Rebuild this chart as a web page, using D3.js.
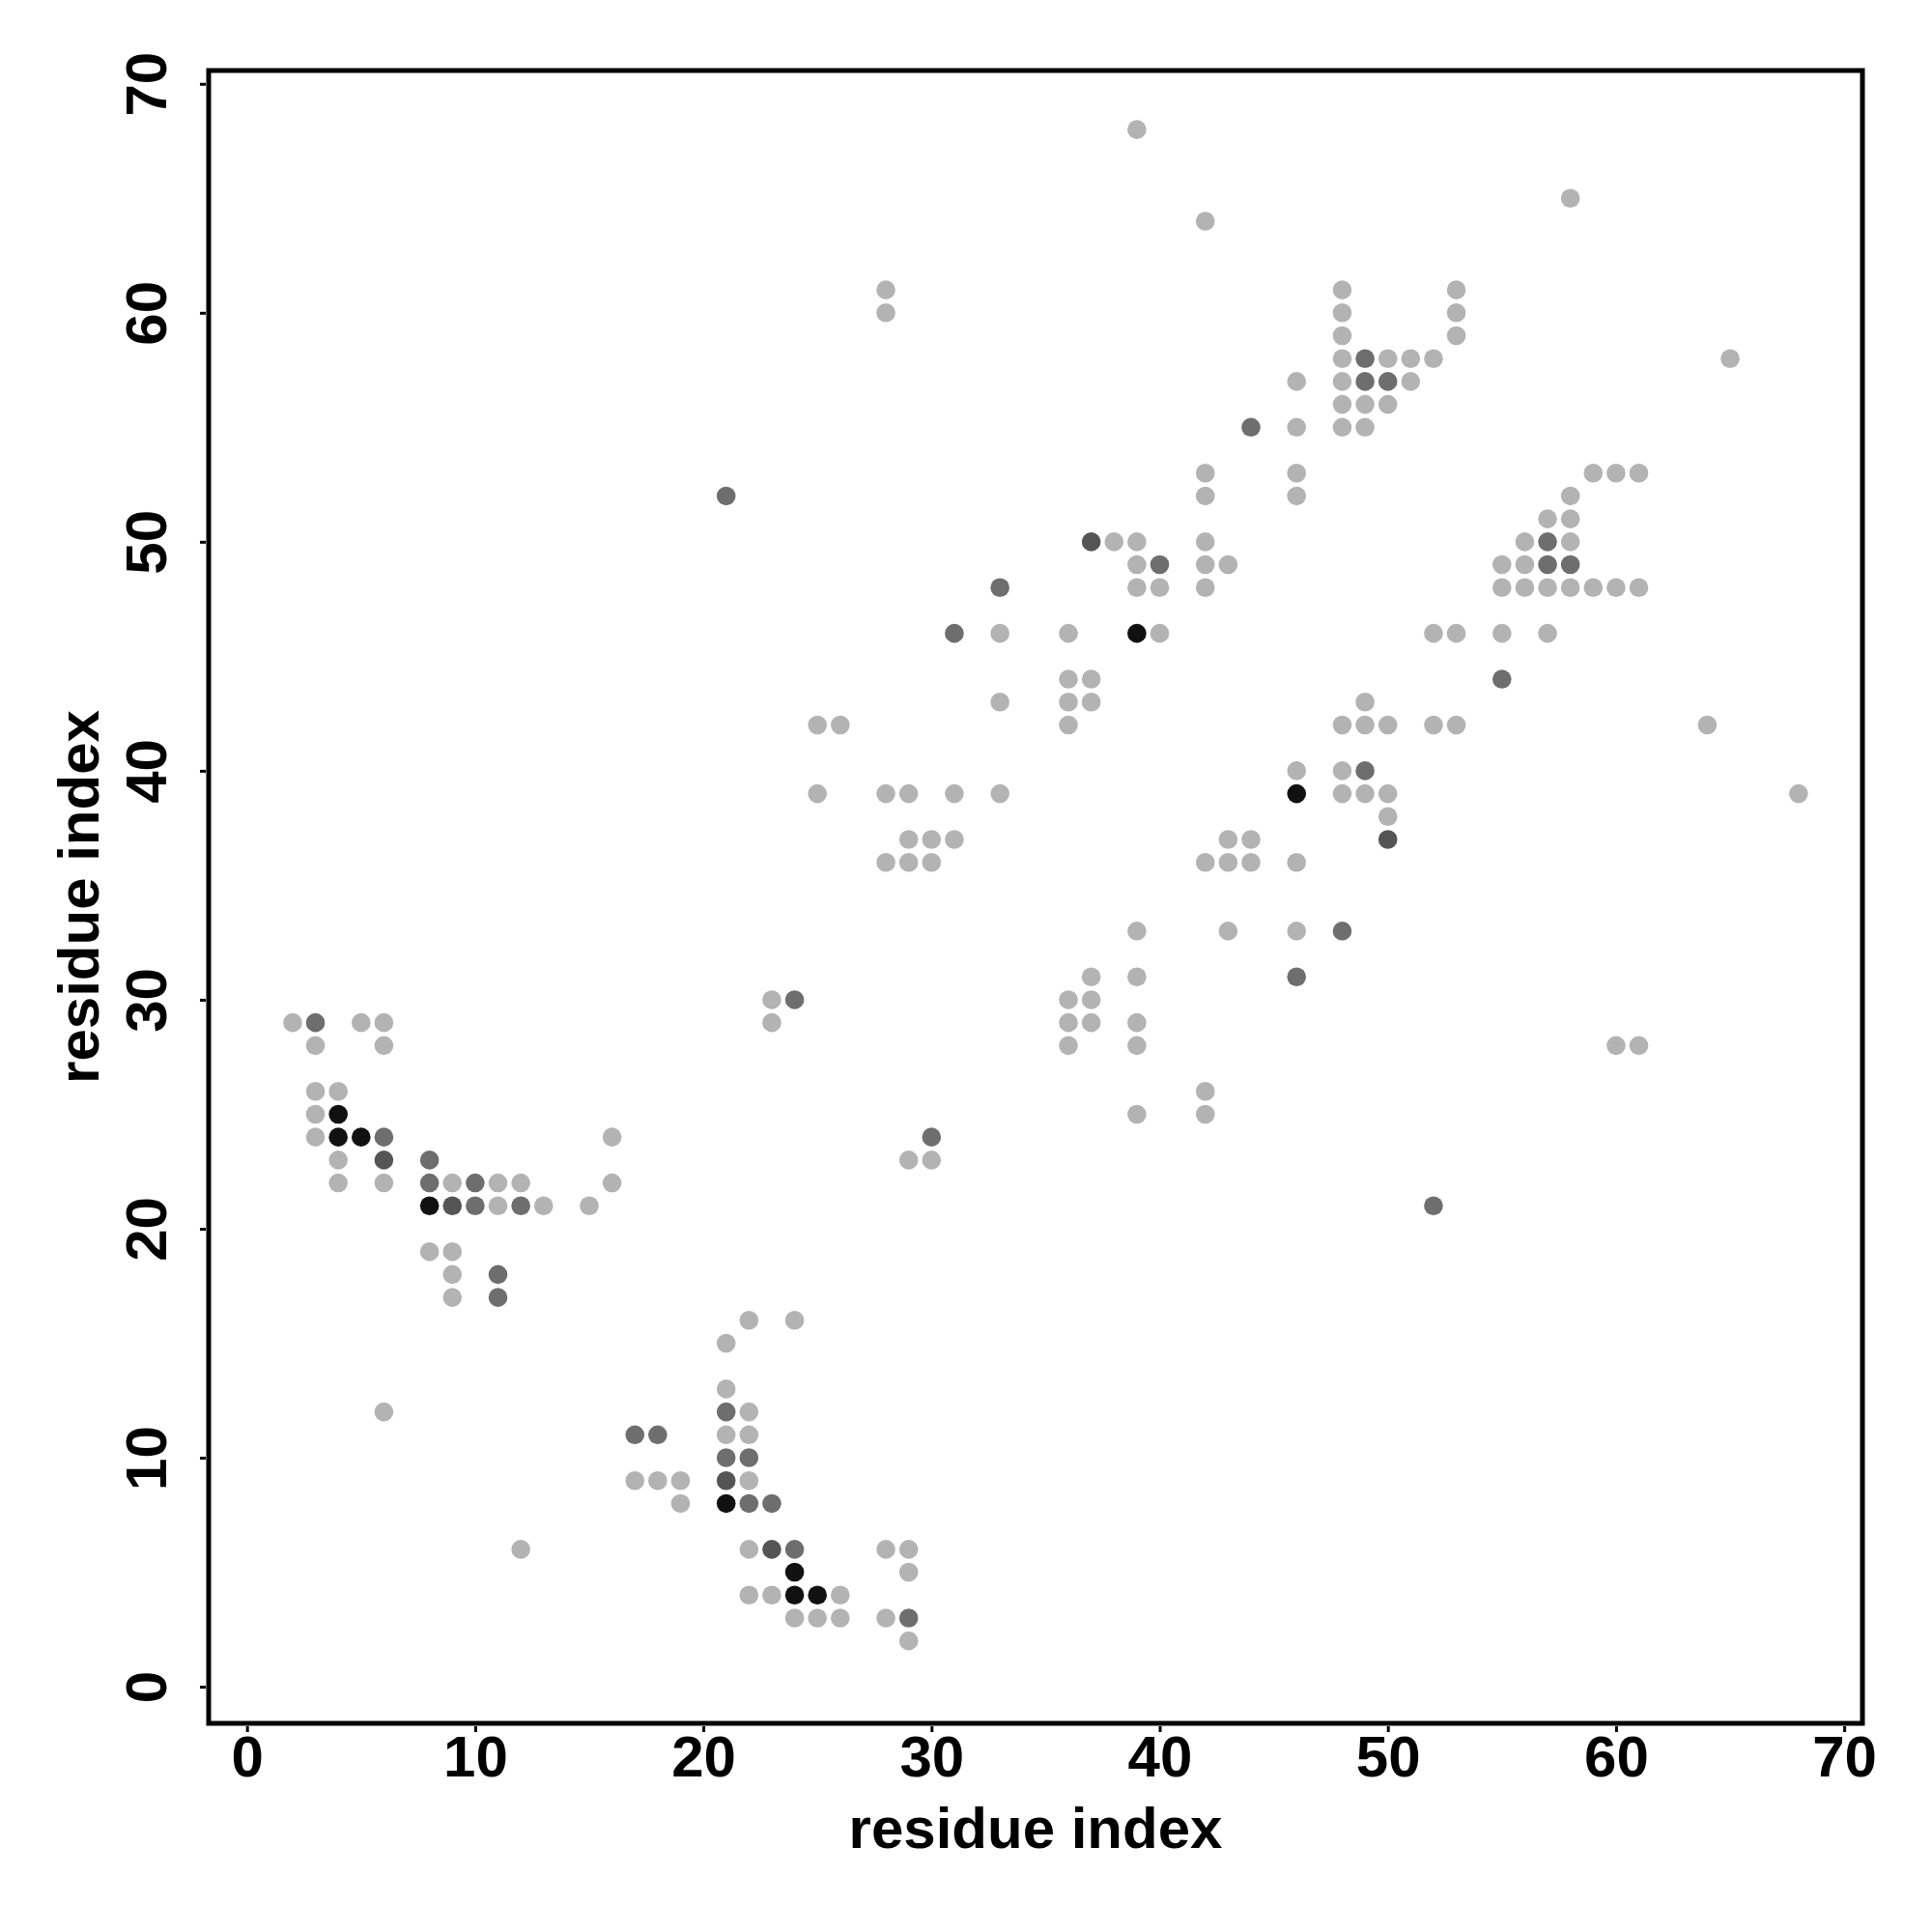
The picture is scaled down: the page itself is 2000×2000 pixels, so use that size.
<!DOCTYPE html>
<html>
<head>
<meta charset="utf-8">
<script src="https://cdn.jsdelivr.net/npm/d3@7"></script>
<style>
  body { margin: 0; background: #fff; }
  svg text { font-family: "Liberation Sans", Arial, Helvetica, sans-serif; font-weight: bold; }
</style>
</head>
<body>
<div id="main"></div>
<script>
// contact map: residue i (x), residue j (y), shade level (1 light .. 4 black)
const resI = [
  29,
  24, 25, 26, 28, 29,
  22, 23, 24, 25, 26,
  24, 29,
  12, 22, 23, 24, 28, 29,
  19, 21, 22, 23,
  17, 18, 19, 21, 22,
  21, 22,
  17, 18, 21, 22,
  6, 21, 22,
  21,
  21,
  22, 24,
  9, 11,
  9, 11,
  8, 9,
  8, 9, 10, 11, 12, 13, 15, 52,
  4, 6, 8, 9, 10, 11, 12, 16,
  4, 6, 8, 29, 30,
  3, 4, 5, 6, 16, 30,
  3, 4, 39, 42,
  3, 4, 42,
  3, 6, 36, 39, 60, 61,
  2, 3, 5, 6, 23, 36, 37, 39,
  23, 24, 36, 37,
  37, 39, 46,
  39, 43, 46, 48,
  28, 29, 30, 42, 43, 44, 46,
  29, 30, 31, 43, 44, 50,
  50,
  25, 28, 29, 31, 33, 46, 48, 49, 50, 68,
  46, 48, 49,
  25, 26, 36, 48, 49, 50, 52, 53, 64,
  33, 36, 37, 49,
  36, 37, 55,
  31, 33, 36, 39, 40, 52, 53, 55, 57,
  33, 39, 40, 42, 55, 56, 57, 58, 59, 60, 61,
  39, 40, 42, 43, 55, 56, 57, 58,
  37, 38, 39, 42, 56, 57, 58,
  57, 58,
  21, 42, 46, 58,
  42, 46, 59, 60, 61,
  44, 46, 48, 49,
  48, 49, 50,
  46, 48, 49, 50, 51,
  48, 49, 50, 51, 52, 65,
  48, 53,
  28, 48, 53,
  28, 48, 53,
  42,
  58,
  39
];
const resJ = [
  2,
  3, 3, 3, 3, 3,
  4, 4, 4, 4, 4,
  5, 5,
  6, 6, 6, 6, 6, 6,
  8, 8, 8, 8,
  9, 9, 9, 9, 9,
  10, 10,
  11, 11, 11, 11,
  12, 12, 12,
  13,
  15,
  16, 16,
  17, 17,
  18, 18,
  19, 19,
  21, 21, 21, 21, 21, 21, 21, 21,
  22, 22, 22, 22, 22, 22, 22, 22,
  23, 23, 23, 23, 23,
  24, 24, 24, 24, 24, 24,
  25, 25, 25, 25,
  26, 26, 26,
  28, 28, 28, 28, 28, 28,
  29, 29, 29, 29, 29, 29, 29, 29,
  30, 30, 30, 30,
  31, 31, 31,
  33, 33, 33, 33,
  36, 36, 36, 36, 36, 36, 36,
  37, 37, 37, 37, 37, 37,
  38,
  39, 39, 39, 39, 39, 39, 39, 39, 39, 39,
  40, 40, 40,
  42, 42, 42, 42, 42, 42, 42, 42, 42,
  43, 43, 43, 43,
  44, 44, 44,
  46, 46, 46, 46, 46, 46, 46, 46, 46,
  48, 48, 48, 48, 48, 48, 48, 48, 48, 48, 48,
  49, 49, 49, 49, 49, 49, 49, 49,
  50, 50, 50, 50, 50, 50, 50,
  51, 51,
  52, 52, 52, 52,
  53, 53, 53, 53, 53,
  55, 55, 55, 55,
  56, 56, 56,
  57, 57, 57, 57, 57,
  58, 58, 58, 58, 58, 58,
  59, 59,
  60, 60, 60,
  61, 61, 61,
  64,
  65,
  68
];
const shadeLevel = [
  1,
  1, 1, 1, 1, 2,
  1, 1, 4, 4, 1,
  4, 1,
  1, 1, 3, 2, 1, 1,
  1, 4, 2, 2,
  1, 1, 1, 3, 1,
  2, 2,
  2, 2, 1, 1,
  1, 2, 1,
  1,
  1,
  1, 1,
  1, 2,
  1, 2,
  1, 1,
  4, 3, 2, 1, 2, 1, 1, 2,
  1, 1, 2, 1, 2, 1, 1, 1,
  1, 3, 2, 1, 1,
  1, 4, 4, 2, 1, 2,
  1, 4, 1, 1,
  1, 1, 1,
  1, 1, 1, 1, 1, 1,
  1, 2, 1, 1, 1, 1, 1, 1,
  1, 2, 1, 1,
  1, 1, 2,
  1, 1, 1, 2,
  1, 1, 1, 1, 1, 1, 1,
  1, 1, 1, 1, 1, 3,
  1,
  1, 1, 1, 1, 1, 4, 1, 1, 1, 1,
  1, 1, 2,
  1, 1, 1, 1, 1, 1, 1, 1, 1,
  1, 1, 1, 1,
  1, 1, 2,
  2, 1, 1, 4, 1, 1, 1, 1, 1,
  2, 1, 1, 1, 1, 1, 1, 1, 1, 1, 1,
  1, 2, 1, 1, 1, 1, 2, 2,
  3, 1, 1, 1, 1, 2, 1,
  1, 1,
  2, 1, 1, 1,
  1, 1, 1, 1, 1,
  2, 1, 1, 1,
  1, 1, 1,
  1, 1, 2, 2, 1,
  1, 2, 1, 1, 1, 1,
  1, 1,
  1, 1, 1,
  1, 1, 1,
  1,
  1,
  1
];
const tickValues = [0, 10, 20, 30, 40, 50, 60, 70];
const axisTitle = 'residue index';

const width = 2000;
const height = 2000;
const plot = { left: 216, right: 1928, top: 73, bottom: 1784 }; // frame of the plot region

const points = resI.map((d, k) => ({ i: d, j: resJ[k], level: shadeLevel[k] }));

const svg = d3.select('#main')
  .append('svg')
  .attr('width', width)
  .attr('height', height);

// scales, padded a little beyond 0..70 like the original
const x = d3.scaleLinear().domain([-1.68, 70.8]).range([plot.left, plot.right]);
const y = d3.scaleLinear().domain([-1.6, 70.58]).range([plot.bottom, plot.top]);
const shade = d3.scaleOrdinal().domain([1, 2, 3, 4]).range(['#b3b3b3', '#6e6e6e', '#555555', '#111111']);

// points
svg.append('g')
  .selectAll('circle')
  .data(points)
  .enter()
  .append('circle')
  .attr('cx', d => x(d.i))
  .attr('cy', d => y(d.j))
  .attr('r', 9.8)
  .attr('fill', d => shade(d.level));

// frame
svg.append('rect')
  .attr('x', plot.left)
  .attr('y', plot.top)
  .attr('width', plot.right - plot.left)
  .attr('height', plot.bottom - plot.top)
  .attr('fill', 'none')
  .attr('stroke', '#000')
  .attr('stroke-width', 5);

// x axis
const xAxis = svg.append('g')
  .attr('transform', `translate(0,${plot.bottom + 3})`)
  .call(d3.axisBottom(x).tickValues(tickValues).tickSize(6).tickFormat(d3.format('d')));
xAxis.select('.domain').remove();
xAxis.selectAll('.tick line').attr('stroke', '#000').attr('stroke-width', 3);
xAxis.selectAll('.tick text')
  .attr('fill', '#000')
  .attr('y', 1839 - (plot.bottom + 3))
  .attr('dy', null)
  .style('font-size', '60px');

// y axis, labels turned sideways
const yAxis = svg.append('g')
  .attr('transform', `translate(${plot.left - 3},0)`)
  .call(d3.axisLeft(y).tickValues(tickValues).tickSize(6).tickFormat(d3.format('d')));
yAxis.select('.domain').remove();
yAxis.selectAll('.tick line').attr('stroke', '#000').attr('stroke-width', 3);
yAxis.selectAll('.tick text')
  .attr('fill', '#000')
  .attr('x', null)
  .attr('dy', null)
  .attr('text-anchor', 'middle')
  .attr('transform', `translate(${172 - (plot.left - 3)},0) rotate(-90)`)
  .style('font-size', '60px');

// axis titles
svg.append('text')
  .attr('x', (plot.left + plot.right) / 2)
  .attr('y', 1913)
  .attr('text-anchor', 'middle')
  .style('font-size', '60px')
  .text(axisTitle);

svg.append('text')
  .attr('transform', `translate(102,${(plot.top + plot.bottom) / 2}) rotate(-90)`)
  .attr('text-anchor', 'middle')
  .style('font-size', '60px')
  .text(axisTitle);
</script>
</body>
</html>
